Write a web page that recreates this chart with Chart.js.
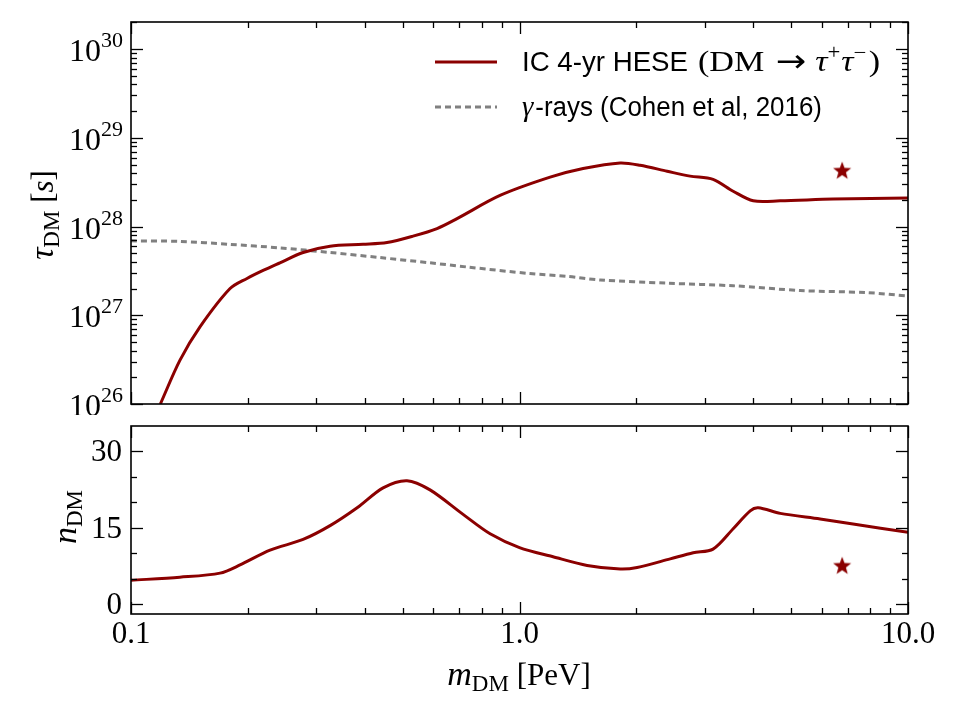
<!DOCTYPE html>
<html>
<head>
<meta charset="utf-8">
<script src="https://cdn.jsdelivr.net/npm/chart.js@4.4.0/dist/chart.umd.min.js"></script>
<style>
html, body { margin: 0; padding: 0; background: #fff; }
#wrap { position: relative; width: 960px; height: 720px; }
#c1 { position: absolute; left: 0; top: 0; }
#c2 { position: absolute; left: 0; top: 415px; }
</style>
</head>
<body>
<div id="wrap">
  <canvas id="c1" width="960" height="415"></canvas>
  <canvas id="c2" width="960" height="305"></canvas>
</div>
<script>
// IceCube HESE lifetime limit (top panel)
var massIC = [0.119, 0.1336, 0.1505, 0.1799, 0.1989, 0.2188, 0.2417, 0.2773, 0.3254, 0.3957, 0.456, 0.532, 0.6134, 0.6907, 0.891, 1.199, 1.458, 1.816, 2.044, 2.399, 2.749, 3.149, 3.548, 3.996, 4.69, 6.42, 10.0];
var tauIC = [1.0e26, 3.1e26, 7.4e26, 2.0e27, 2.6e27, 3.2e27, 3.9e27, 5.1e27, 6.0e27, 6.3e27, 6.6e27, 7.8e27, 9.5e27, 1.23e28, 2.24e28, 3.6e28, 4.5e28, 5.2e28, 4.9e28, 4.2e28, 3.7e28, 3.4e28, 2.5e28, 1.95e28, 1.95e28, 2.04e28, 2.1e28];
// gamma-ray limit (Cohen et al 2016)
var massGamma = [0.1, 0.1336, 0.1799, 0.2417, 0.3254, 0.4375, 0.589, 0.733, 1.064, 1.327, 1.613, 2.399, 3.548, 5.28, 7.85, 10.0];
var tauGamma = [6.9e27, 6.8e27, 6.3e27, 5.75e27, 5.1e27, 4.47e27, 3.9e27, 3.5e27, 2.95e27, 2.75e27, 2.5e27, 2.3e27, 2.15e27, 1.9e27, 1.8e27, 1.65e27];
// number of DM events (bottom panel)
var massN = [0.1, 0.1336, 0.1695, 0.1908, 0.228, 0.2773, 0.3254, 0.382, 0.4455, 0.5135, 0.5884, 0.7158, 0.8401, 1.0, 1.22, 1.493, 1.816, 2.008, 2.443, 2.80, 3.149, 3.548, 3.925, 4.115, 4.69, 5.94, 7.22, 10.0];
var nDM = [4.7, 5.3, 6.1, 7.7, 10.6, 12.7, 15.4, 18.9, 22.8, 24.2, 22.4, 17.6, 13.8, 11.1, 9.3, 7.6, 6.9, 7.2, 8.9, 10.1, 10.8, 14.8, 18.3, 18.9, 17.8, 16.7, 15.7, 14.1];
// best fit point
var starMass = 6.77;
var starTau = 4.3e28;
var starN = 7.6;

var xTicks = [0.1, 1, 10];
var xTickLabels = ['0.1', '1.0', '10.0'];
var tauExps = [26, 27, 28, 29, 30];
var nTicks = [0, 15, 30];
var nTickLabels = ['0', '15', '30'];

var RED = '#8b0000';
var GREY = '#808080';
var SERIF = '"Liberation Serif", "DejaVu Serif", serif';
var SANS = '"Liberation Sans", "DejaVu Sans", sans-serif';

function pts(xs, ys) {
    var out = [];
    for (var i = 0; i < xs.length; i++) out.push({x: xs[i], y: ys[i]});
    return out;
}

function starImage() {
    var c = document.createElement('canvas');
    c.width = 22; c.height = 22;
    var g = c.getContext('2d');
    g.fillStyle = RED;
    g.beginPath();
    for (var i = 0; i < 10; i++) {
        var r = i % 2 === 0 ? 9.5 : 4;
        var a = -Math.PI / 2 + i * Math.PI / 5;
        var px = 11 + r * Math.cos(a), py = 11.8 + r * Math.sin(a);
        if (i === 0) g.moveTo(px, py); else g.lineTo(px, py);
    }
    g.closePath();
    g.fill();
    return c;
}
var STAR = starImage();

// text made of several pieces (fonts / raised or lowered parts / gaps)
function runsWidth(ctx, runs) {
    var w = 0;
    runs.forEach(function(r){
        if (r.gap) { w += r.gap; return; }
        ctx.font = r.f; w += ctx.measureText(r.t).width;
    });
    return w;
}
function drawRuns(ctx, x, y, runs) {
    ctx.textBaseline = 'alphabetic';
    ctx.textAlign = 'left';
    runs.forEach(function(r){
        if (r.gap) { x += r.gap; return; }
        ctx.font = r.f;
        ctx.fillText(r.t, x, y + (r.dy || 0));
        x += ctx.measureText(r.t).width;
    });
    return x;
}
function drawRunsFit(ctx, x, y, runs, width) {
    var w = runsWidth(ctx, runs);
    ctx.save();
    ctx.translate(x, y);
    ctx.scale(width / w, 1);
    drawRuns(ctx, 0, 0, runs);
    ctx.restore();
}

function seg(ctx, x1, y1, x2, y2) {
    ctx.beginPath(); ctx.moveTo(x1, y1); ctx.lineTo(x2, y2); ctx.stroke();
}

function xMinor() {
    var v = [];
    [-1, 0].forEach(function(k){ for (var j = 2; j <= 9; j++) v.push(j * Math.pow(10, k)); });
    return v;
}

function drawFrame(chart, yMajor, yMinor) {
    var ctx = chart.ctx, a = chart.chartArea, xs = chart.scales.x, ys = chart.scales.y;
    ctx.save();
    ctx.strokeStyle = '#000';
    ctx.lineWidth = 1.3;
    xTicks.forEach(function(v){
        var p = Math.round(xs.getPixelForValue(v)) + 0.5;
        seg(ctx, p, a.bottom, p, a.bottom - 12);
        seg(ctx, p, a.top, p, a.top + 12);
    });
    xMinor().forEach(function(v){
        var p = Math.round(xs.getPixelForValue(v)) + 0.5;
        seg(ctx, p, a.bottom, p, a.bottom - 6);
        seg(ctx, p, a.top, p, a.top + 6);
    });
    yMajor.forEach(function(v){
        var p = Math.round(ys.getPixelForValue(v)) + 0.5;
        seg(ctx, a.left, p, a.left + 12, p);
        seg(ctx, a.right, p, a.right - 12, p);
    });
    yMinor.forEach(function(v){
        var p = Math.round(ys.getPixelForValue(v)) + 0.5;
        seg(ctx, a.left, p, a.left + 6, p);
        seg(ctx, a.right, p, a.right - 6, p);
    });
    ctx.lineWidth = 1.6;
    ctx.strokeRect(a.left, a.top, a.right - a.left, a.bottom - a.top);
    ctx.restore();
}

var topPlugin = {
    id: 'topDecor',
    afterDraw: function(chart) {
        var ctx = chart.ctx, a = chart.chartArea, ys = chart.scales.y;
        var major = tauExps.map(function(e){ return Math.pow(10, e); });
        var minor = [];
        tauExps.forEach(function(e){
            for (var j = 2; j <= 9; j++) {
                var v = j * Math.pow(10, e);
                if (v <= ys.max) minor.push(v);
            }
        });
        drawFrame(chart, major, minor);
        ctx.save();
        ctx.fillStyle = '#000';
        tauExps.forEach(function(e){
            var p = ys.getPixelForValue(Math.pow(10, e));
            var runs = [{t: '10', f: '32px ' + SERIF}, {t: String(e), f: '22px ' + SERIF, dy: -14}];
            var w = runsWidth(ctx, runs);
            drawRuns(ctx, a.left - 8 - w, p + 12, runs);
        });
        // y title
        ctx.translate(53, 215);
        ctx.rotate(-Math.PI / 2);
        var yt = [{t: 'τ', f: 'italic 34px ' + SERIF}, {t: 'DM', f: '23px ' + SERIF, dy: 6},
                  {t: ' [', f: '31px ' + SERIF}, {t: 's', f: 'italic 31px ' + SERIF}, {t: ']', f: '31px ' + SERIF}];
        drawRuns(ctx, -runsWidth(ctx, yt) / 2, 0, yt);
        ctx.restore();
        // legend
        ctx.save();
        ctx.lineWidth = 3;
        ctx.strokeStyle = RED;
        seg(ctx, 435, 62, 497, 62);
        ctx.strokeStyle = GREY;
        ctx.setLineDash([6, 4]);
        seg(ctx, 435, 107, 497, 107);
        ctx.setLineDash([]);
        ctx.fillStyle = '#000';
        drawRunsFit(ctx, 522, 71, [{t: 'IC 4-yr HESE', f: '28px ' + SANS}], 166);
        drawRunsFit(ctx, 698, 71, [
            {t: '(DM', f: '30px ' + SERIF},
            {gap: 10},
            {t: '→', f: '32px "DejaVu Sans", sans-serif', dy: 1},
            {gap: 8},
            {t: 'τ', f: 'italic 30px ' + SERIF},
            {t: '+', f: '20px ' + SERIF, dy: -12},
            {gap: 1},
            {t: 'τ', f: 'italic 30px ' + SERIF},
            {t: '−', f: '20px ' + SERIF, dy: -12},
            {gap: 2},
            {t: ')', f: '30px ' + SERIF}
        ], 182);
        drawRunsFit(ctx, 522, 116, [
            {t: 'γ', f: 'italic 30px ' + SERIF},
            {gap: 2},
            {t: '-rays (Cohen et al, 2016)', f: '27px ' + SANS}
        ], 300);
        ctx.restore();
    }
};

var bottomPlugin = {
    id: 'bottomDecor',
    afterDraw: function(chart) {
        var ctx = chart.ctx, a = chart.chartArea, xs = chart.scales.x, ys = chart.scales.y;
        drawFrame(chart, nTicks, [5, 10, 20, 25]);
        ctx.save();
        ctx.fillStyle = '#000';
        ctx.font = '31px ' + SERIF;
        ctx.textAlign = 'right';
        ctx.textBaseline = 'middle';
        nTicks.forEach(function(v, i){
            ctx.fillText(nTickLabels[i], a.left - 9, ys.getPixelForValue(v) + 2);
        });
        ctx.textAlign = 'center';
        xTicks.forEach(function(v, i){
            ctx.fillText(xTickLabels[i], xs.getPixelForValue(v), 220);
        });
        var xt = [{t: 'm', f: 'italic 34px ' + SERIF}, {t: 'DM', f: '23px ' + SERIF, dy: 6}, {t: ' [PeV]', f: '31px ' + SERIF}];
        drawRuns(ctx, 519 - runsWidth(ctx, xt) / 2, 270, xt);
        ctx.translate(76, 102);
        ctx.rotate(-Math.PI / 2);
        var yt = [{t: 'n', f: 'italic 34px ' + SERIF}, {t: 'DM', f: '23px ' + SERIF, dy: 6}];
        drawRuns(ctx, -runsWidth(ctx, yt) / 2, 0, yt);
        ctx.restore();
    }
};

function commonOptions(yScale, pad) {
    return {
        responsive: false,
        animation: false,
        layout: { padding: pad },
        plugins: { legend: { display: false }, tooltip: { enabled: false } },
        scales: {
            x: { type: 'logarithmic', min: 0.1, max: 10, display: false },
            y: yScale
        }
    };
}

var chartTop = new Chart(document.getElementById('c1'), {
    type: 'line',
    data: {
        datasets: [{
            label: 'IC 4-yr HESE (DM → τ+τ−)',
            data: pts(massIC, tauIC),
            borderColor: RED,
            borderWidth: 3,
            pointRadius: 0,
            tension: 0.3
        }, {
            label: 'γ-rays (Cohen et al, 2016)',
            data: pts(massGamma, tauGamma),
            borderColor: GREY,
            borderWidth: 3,
            borderDash: [6, 4],
            pointRadius: 0,
            tension: 0.3
        }, {
            label: 'best fit',
            data: [{x: starMass, y: starTau}],
            showLine: false,
            pointStyle: STAR,
            pointRadius: 10
        }]
    },
    options: commonOptions({ type: 'logarithmic', min: 1e26, max: 2.02e30, display: false },
                           { left: 131, right: 52, top: 22, bottom: 8 }),
    plugins: [topPlugin]
});

var chartBottom = new Chart(document.getElementById('c2'), {
    type: 'line',
    data: {
        datasets: [{
            label: 'n_DM',
            data: pts(massN, nDM),
            borderColor: RED,
            borderWidth: 3,
            pointRadius: 0,
            tension: 0.3
        }, {
            label: 'best fit',
            data: [{x: starMass, y: starN}],
            showLine: false,
            pointStyle: STAR,
            pointRadius: 10
        }]
    },
    options: commonOptions({ type: 'linear', min: -1.9, max: 34.9, display: false },
                           { left: 131, right: 52, top: 7, bottom: 106 }),
    plugins: [bottomPlugin]
});
</script>
</body>
</html>
